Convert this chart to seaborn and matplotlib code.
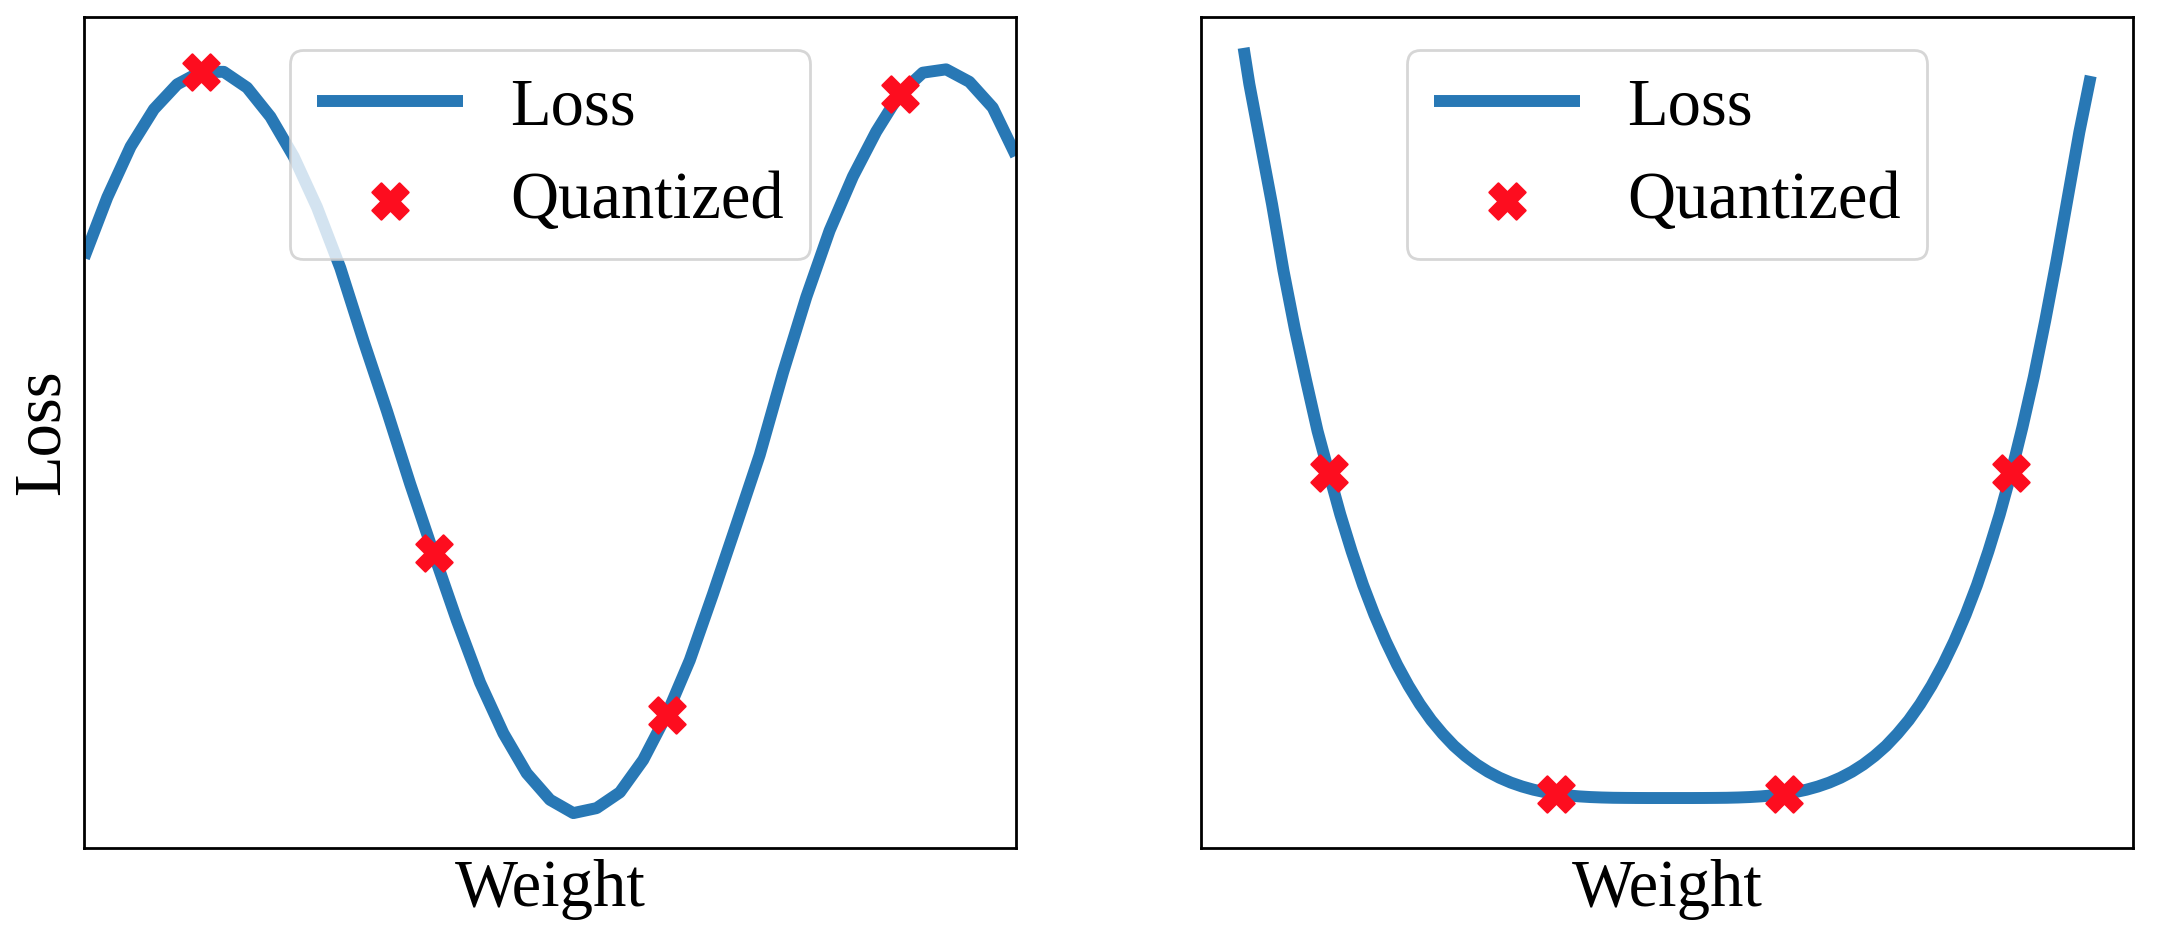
import numpy as np
import pandas as pd
import matplotlib
matplotlib.use("Agg")
import matplotlib.pyplot as plt
import seaborn as sns

# ---------------- data ----------------
# Left panel: sampled, wavy loss surface (41 samples)
left_weight = list(range(41))
left_loss = [71.0, 78.3, 84.4, 88.9, 91.9, 93.4, 93.4, 91.5, 88.0, 83.2,
             77.1, 69.8, 61.0, 52.6, 43.8, 35.5, 27.4, 19.9, 13.8, 9.0,
             5.8, 4.2, 4.8, 6.7, 10.6, 16.0, 22.6, 30.6, 38.9, 47.3,
             57.2, 66.3, 74.3, 80.8, 86.2, 90.7, 93.3, 93.7, 92.2, 89.1,
             83.3]
left_q_weight = [5, 15, 25, 35]
left_q_loss = [93.4, 35.5, 16.0, 90.7]

# Right panel: flat-bottomed loss surface
right_weight = [-3.75, -3.7, -3.6, -3.5, -3.4, -3.3, -3.2, -3.1, -3.0, -2.9,
                -2.8, -2.7, -2.6, -2.5, -2.4, -2.3, -2.2, -2.1, -2.0, -1.9,
                -1.8, -1.7, -1.6, -1.5, -1.4, -1.3, -1.2, -1.1, -1.0, -0.9,
                -0.8, -0.7, -0.6, -0.5, -0.4, -0.3, -0.2, -0.1, 0.0, 0.1,
                0.2, 0.3, 0.4, 0.5, 0.6, 0.7, 0.8, 0.9, 1.0, 1.1,
                1.2, 1.3, 1.4, 1.5, 1.6, 1.7, 1.8, 1.9, 2.0, 2.1,
                2.2, 2.3, 2.4, 2.5, 2.6, 2.7, 2.8, 2.9, 3.0, 3.1,
                3.2, 3.3, 3.4, 3.5, 3.6, 3.7]
right_loss = [187.0, 178.0, 163.0, 148.0, 131.5, 117.0, 104.0, 91.5, 81.0, 70.7,
              61.5, 53.1, 45.7, 39.1, 33.2, 28.0, 23.4, 19.4, 16.0, 13.0,
              10.5, 8.35, 6.55, 5.06, 3.84, 2.86, 2.07, 1.46, 1.0, 0.66,
              0.41, 0.24, 0.13, 0.06, 0.03, 0.01, 0.0, 0.0, 0.0, 0.0,
              0.0, 0.01, 0.03, 0.06, 0.13, 0.24, 0.41, 0.66, 1.0, 1.46,
              2.07, 2.86, 3.84, 5.06, 6.55, 8.35, 10.5, 13.0, 16.0, 19.4,
              23.4, 28.0, 33.2, 39.1, 45.7, 53.1, 61.5, 70.7, 81.0, 92.5,
              105.0, 119.0, 134.0, 150.0, 166.0, 180.0]
right_q_weight = [-3, -1, 1, 3]
right_q_loss = [81.0, 1.0, 1.0, 81.0]

line_label = "Loss"
point_label = "Quantized"
x_label = "Weight"
y_label = "Loss"

# ---------------- style ----------------
sns.set_style("white")
plt.rcParams["font.family"] = ["Liberation Serif", "DejaVu Serif"]
plt.rcParams["text.color"] = "black"
plt.rcParams["axes.labelcolor"] = "black"
plt.rcParams["axes.edgecolor"] = "black"
plt.rcParams["axes.linewidth"] = 1.0

LINE_COLOR = "#2878b5"
MARK_COLOR = "#fd0d1f"
FS = 24

fig = plt.figure(figsize=(10.82, 4.66), dpi=200)
ax1 = fig.add_axes([84 / 2164, 1 - 848 / 932, 932 / 2164, 831 / 932])
ax2 = fig.add_axes([1201 / 2164, 1 - 848 / 932, 932 / 2164, 831 / 932])


def draw(ax, w, loss, qw, ql, xlim, ylim):
    df = pd.DataFrame({"w": w, "loss": loss})
    dq = pd.DataFrame({"w": qw, "loss": ql})
    sns.lineplot(data=df, x="w", y="loss", ax=ax, color=LINE_COLOR,
                 linewidth=4.3, sort=False, estimator=None, label=line_label,
                 solid_capstyle="butt")
    sns.scatterplot(data=dq, x="w", y="loss", ax=ax, color=MARK_COLOR,
                    marker="X", s=170, edgecolor=MARK_COLOR, linewidth=0.8,
                    zorder=3, label=point_label)
    ax.set_xlim(*xlim)
    ax.set_ylim(*ylim)
    ax.set_xticks([])
    ax.set_yticks([])
    ax.set_xlabel(x_label, fontsize=FS, color="black")
    ax.set_ylabel("")
    for s in ax.spines.values():
        s.set_visible(True)
        s.set_color("black")
        s.set_linewidth(1.0)
    leg = ax.legend(loc="upper center", fontsize=FS, handlelength=2.2,
                    handletextpad=0.7, framealpha=0.8, borderaxespad=0.5)
    for t in leg.get_texts():
        t.set_color("black")
    for h in leg.get_lines():
        h.set_solid_capstyle("butt")


draw(ax1, left_weight, left_loss, left_q_weight, left_q_loss, (0, 40), (0, 100))
draw(ax2, right_weight, right_loss, right_q_weight, right_q_loss,
     (-4.125, 4.072), (-12.46, 194.7))
ax1.set_ylabel(y_label, fontsize=FS, color="black")

fig.savefig("out.png", dpi=200)
